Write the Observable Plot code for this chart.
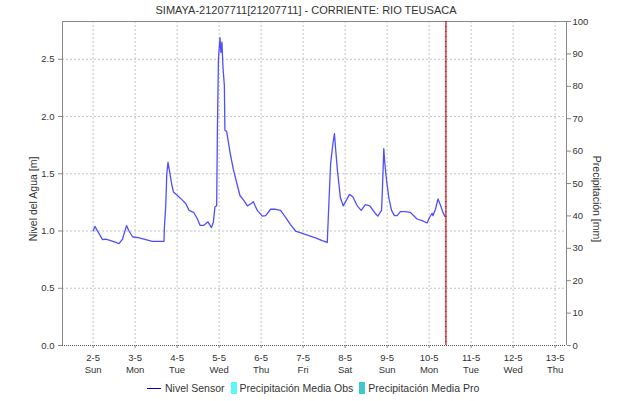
<!DOCTYPE html>
<html><head><meta charset="utf-8">
<script src="https://cdn.jsdelivr.net/npm/d3@7"></script>
<script src="https://cdn.jsdelivr.net/npm/@observablehq/plot@0.6"></script>
<style>
body{margin:0;background:#fff;}
#wrap{width:618px;height:401px;position:relative;overflow:hidden;font-family:"Liberation Sans",Arial,sans-serif;color:#333;}
#title{position:absolute;left:0;top:4px;width:612px;text-align:center;font-size:11px;}
#chart{position:absolute;left:0;top:16px;}
.ylab{position:absolute;font-size:10.5px;white-space:nowrap;}
#legend{position:absolute;left:147px;top:382px;font-size:10.5px;display:flex;align-items:center;white-space:nowrap;}
#legend .sw-line{width:14px;height:0;border-top:1.2px solid #0000c0;margin-right:4px;}
#legend .sw-box{width:6px;height:12px;margin-right:3px;}
#legend .item{display:flex;align-items:center;margin-right:6px;}
</style>
</head><body>
<div id="wrap">
  <div id="title">SIMAYA-21207711[21207711] - CORRIENTE: RIO TEUSACA</div>
  <div id="chart"></div>
  <div class="ylab" id="ylabL">Nivel del Agua [m]</div>
  <div class="ylab" id="ylabR">Precipitación [mm]</div>
  <div id="legend"></div>
</div>
<script>
// ---- data ----
const baseDate = Date.UTC(2021, 4, 2); // 2-5 00:00
const hours = [0,1,5.4,7.2,10.1,13,14.8,16.8,19.1,20.5,22.5,26.3,30.1,33.9,40.5,40.7,41.5,42.1,42.8,43.8,44.9,45.9,48.2,51,52.9,54.8,57.6,59.6,61.1,63.3,65.6,67.6,68.7,69.6,70.6,71,71.6,72.5,73,73.6,74.2,75,75.3,76.3,78.2,80.1,82.4,83.9,86.2,88.1,90.4,91.5,93.8,96.7,98.6,101.4,104.3,107.1,110,112.8,115.7,119.5,123.3,127.1,130.9,133.8,134.7,135.7,137,137.9,138.5,139.6,141.3,142.9,144.6,146.5,148.4,150.9,153.2,155.6,158.1,160.9,162.7,164.8,165.2,166.1,166.7,167.7,169,170.5,172.2,173.7,175.6,178.5,181.3,183.2,185.1,188,190.8,192.3,193.7,194.2,195.6,197.1,198.4,199.9,201.1];
const nivel = [1.00,1.04,0.925,0.93,0.916,0.90,0.89,0.93,1.047,1.00,0.95,0.94,0.925,0.91,0.91,1.02,1.22,1.50,1.60,1.51,1.41,1.34,1.31,1.27,1.24,1.18,1.16,1.105,1.05,1.05,1.08,1.03,1.076,1.21,1.22,1.86,2.50,2.69,2.56,2.65,2.43,2.27,1.88,1.87,1.69,1.54,1.40,1.31,1.265,1.22,1.24,1.257,1.18,1.13,1.134,1.19,1.19,1.18,1.12,1.056,1.00,0.98,0.96,0.94,0.916,0.90,1.236,1.585,1.76,1.85,1.73,1.53,1.29,1.22,1.265,1.32,1.30,1.22,1.18,1.23,1.22,1.16,1.13,1.18,1.32,1.72,1.585,1.44,1.29,1.18,1.134,1.134,1.17,1.17,1.163,1.134,1.105,1.09,1.07,1.12,1.155,1.134,1.19,1.28,1.23,1.163,1.126];
const precipObs = []; // no precipitation drawn
const precipPro = [];
const tickDays = ["2-5","3-5","4-5","5-5","6-5","7-5","8-5","9-5","10-5","11-5","12-5","13-5"];
const tickWeekdays = ["Sun","Mon","Tue","Wed","Thu","Fri","Sat","Sun","Mon","Tue","Wed","Thu"];
const leftTicks = [0,0.5,1,1.5,2,2.5];
const rightTicks = [0,10,20,30,40,50,60,70,80,90,100];
const nowHour = 201.6;
const domainHours = [-17.5, 270.5];
const yMax = 2.83;
const precipMax = 100;

// ---- build ----
const H = 3600e3, D = 86400e3;
const data = hours.map((h, i) => ({t: new Date(baseDate + h * H), v: nivel[i]}));
const tickDates = tickDays.map((_, i) => new Date(baseDate + i * D));
const xDomain = domainHours.map(h => new Date(baseDate + h * H));
const nowDate = new Date(baseDate + nowHour * H);
const FONT = '"Liberation Sans",Arial,sans-serif';
const grid = {stroke: "#c4c4c4", strokeOpacity: 1, strokeDasharray: "2,2"};

const chart = Plot.plot({
  width: 618, height: 359,
  marginLeft: 62, marginRight: 52, marginTop: 5, marginBottom: 30,
  style: {fontFamily: FONT, fontSize: "9.5px", color: "#333", background: "#fff"},
  x: {type: "utc", domain: xDomain},
  y: {domain: [0, yMax]},
  marks: [
    Plot.gridX(tickDates, grid),
    Plot.gridY(leftTicks.slice(1), grid),
    Plot.ruleY([yMax], {stroke: "#888"}),
    Plot.ruleX([xDomain[0]], {stroke: "#888"}),
    Plot.ruleX([xDomain[1]], {stroke: "#888"}),
    Plot.ruleY([0], {stroke: "#555", strokeDasharray: "1,1"}),
    Plot.lineY(data, {x: "t", y: "v", stroke: "#4f4fff", strokeWidth: 1.3}),
    Plot.ruleX([nowDate], {stroke: "#e02828", strokeWidth: 1.4}),
    Plot.ruleX([nowDate], {stroke: "#7a1a1a", strokeDasharray: "1,4"}),
    Plot.axisY(leftTicks, {anchor: "left", tickSize: 4, tickPadding: 4, tickFormat: d => d.toFixed(1), label: null, stroke: "#888"}),
    Plot.axisY(rightTicks.map(p => p * yMax / precipMax), {anchor: "right", tickSize: 4, tickPadding: 2, tickFormat: d => String(Math.round(d * precipMax / yMax)), label: null, stroke: "#888"}),
    Plot.axisX(tickDates, {tickSize: 3, tickPadding: 3, lineHeight: 1.35, label: null, stroke: "#888",
      tickFormat: d => { const i = Math.round((d - baseDate) / D); return tickDays[i] + "\n" + tickWeekdays[i]; }})
  ]
});
document.getElementById("chart").appendChild(chart);

// axis titles
const L = document.getElementById("ylabL");
L.style.left = "33px"; L.style.top = "199px"; L.style.transform = "translate(-50%,-50%) rotate(-90deg)";
const R = document.getElementById("ylabR");
R.style.left = "597px"; R.style.top = "199px"; R.style.transform = "translate(-50%,-50%) rotate(90deg)";
// legend
const legendItems = [
  {label: "Nivel Sensor", type: "line", color: "#0000c0"},
  {label: "Precipitación Media Obs", type: "box", color: "#5cf7f7"},
  {label: "Precipitación Media Pro", type: "box", color: "#3ec8c8"}
];
const leg = document.getElementById("legend");
legendItems.forEach(it => {
  const d = document.createElement("div"); d.className = "item";
  const s = document.createElement("div");
  s.className = it.type === "line" ? "sw-line" : "sw-box";
  if (it.type === "line") s.style.borderTopColor = it.color; else s.style.background = it.color;
  d.appendChild(s);
  const t = document.createElement("span"); t.textContent = it.label; d.appendChild(t);
  leg.appendChild(d);
});
</script>
</body></html>
